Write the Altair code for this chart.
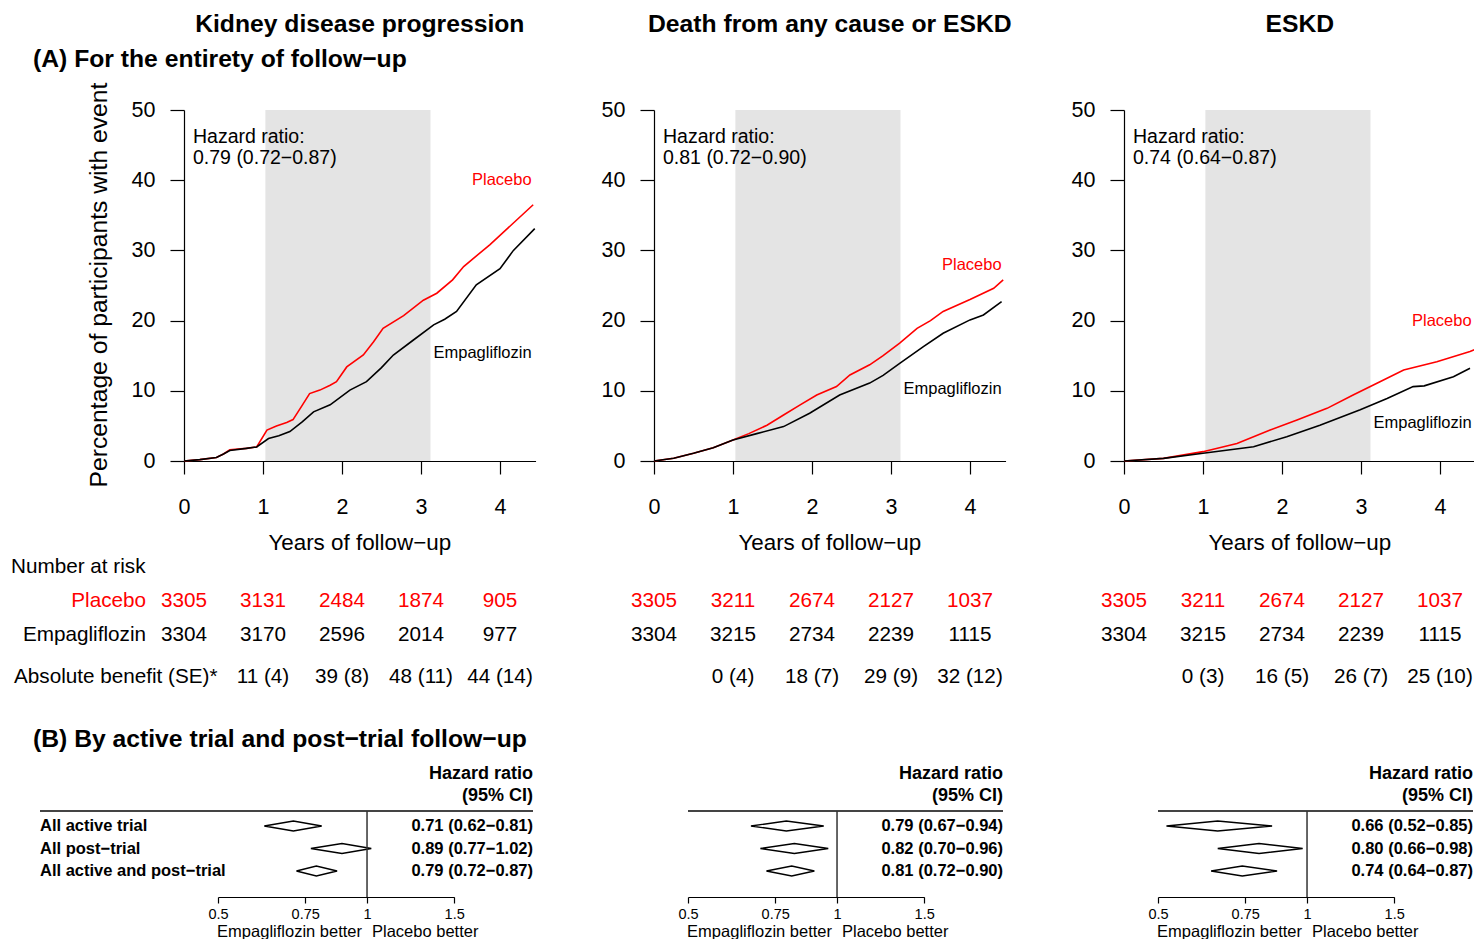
import math
import altair as alt
import pandas as pd

FONT = "Liberation Sans"
W, H = 1474, 939

# ---------------- data ----------------
titles = ["Kidney disease progression", "Death from any cause or ESKD", "ESKD"]
hr_overall = ["0.79 (0.72\u22120.87)", "0.81 (0.72\u22120.90)", "0.74 (0.64\u22120.87)"]

kdp_pla_t = [0, 0.2, 0.41, 0.5, 0.58, 0.79, 0.92, 1.05, 1.17, 1.3, 1.38, 1.5, 1.59, 1.72, 1.85, 1.93, 2.06, 2.27, 2.4, 2.52, 2.78, 3.03, 3.2, 3.4, 3.54, 3.87, 4.17, 4.42]
kdp_pla_v = [0, 0.2, 0.5, 1.0, 1.6, 1.8, 2.0, 4.4, 5.0, 5.5, 5.9, 8.0, 9.6, 10.1, 10.8, 11.3, 13.4, 15.1, 17.0, 18.9, 20.7, 22.9, 23.9, 25.8, 27.7, 30.8, 33.9, 36.5]
kdp_emp_t = [0, 0.2, 0.41, 0.5, 0.58, 0.79, 0.92, 1.07, 1.2, 1.34, 1.5, 1.64, 1.85, 2.1, 2.31, 2.5, 2.65, 2.9, 3.16, 3.3, 3.45, 3.7, 4.0, 4.17, 4.44]
kdp_emp_v = [0, 0.2, 0.5, 1.0, 1.5, 1.8, 2.0, 3.2, 3.6, 4.2, 5.6, 7.0, 8.0, 10.1, 11.3, 13.3, 15.1, 17.2, 19.4, 20.2, 21.3, 25.1, 27.4, 30.0, 33.1]

dth_pla_t = [0, 0.25, 0.5, 0.75, 1.0, 1.2, 1.43, 1.64, 1.85, 2.06, 2.31, 2.48, 2.73, 2.9, 3.11, 3.33, 3.5, 3.66, 4.0, 4.3, 4.42]
dth_pla_v = [0, 0.4, 1.1, 1.9, 3.0, 3.9, 5.1, 6.55, 8.0, 9.4, 10.6, 12.25, 13.7, 15.0, 16.8, 18.9, 20.0, 21.3, 23.0, 24.6, 25.8]
dth_emp_t = [0, 0.25, 0.5, 0.75, 1.0, 1.3, 1.64, 1.97, 2.35, 2.73, 2.9, 3.11, 3.41, 3.66, 4.0, 4.17, 4.40]
dth_emp_v = [0, 0.4, 1.1, 1.9, 3.0, 3.9, 4.9, 6.8, 9.4, 11.1, 12.2, 13.9, 16.3, 18.2, 20.1, 20.8, 22.7]

esk_pla_t = [0, 0.5, 1.0, 1.43, 1.85, 2.19, 2.57, 2.9, 3.24, 3.54, 3.96, 4.38, 4.45]
esk_pla_v = [0, 0.38, 1.33, 2.5, 4.4, 5.85, 7.5, 9.4, 11.3, 12.96, 14.15, 15.6, 15.9]
esk_emp_t = [0, 0.5, 1.0, 1.64, 2.06, 2.48, 2.99, 3.33, 3.66, 3.8, 4.17, 4.38]
esk_emp_v = [0, 0.38, 1.1, 2.04, 3.46, 5.1, 7.3, 8.9, 10.6, 10.7, 12.0, 13.2]

curves = [
    (kdp_pla_t, kdp_pla_v, kdp_emp_t, kdp_emp_v),
    (dth_pla_t, dth_pla_v, dth_emp_t, dth_emp_v),
    (esk_pla_t, esk_pla_v, esk_emp_t, esk_emp_v),
]

risk_years = [0, 1, 2, 3, 4]
benefit_years = [1, 2, 3, 4]
kdp_risk_pla = [3305, 3131, 2484, 1874, 905]
kdp_risk_emp = [3304, 3170, 2596, 2014, 977]
kdp_benefit = ["11 (4)", "39 (8)", "48 (11)", "44 (14)"]
dth_risk_pla = [3305, 3211, 2674, 2127, 1037]
dth_risk_emp = [3304, 3215, 2734, 2239, 1115]
dth_benefit = ["0 (4)", "18 (7)", "29 (9)", "32 (12)"]
esk_risk_pla = [3305, 3211, 2674, 2127, 1037]
esk_risk_emp = [3304, 3215, 2734, 2239, 1115]
esk_benefit = ["0 (3)", "16 (5)", "26 (7)", "25 (10)"]
risk = [
    (kdp_risk_pla, kdp_risk_emp, kdp_benefit),
    (dth_risk_pla, dth_risk_emp, dth_benefit),
    (esk_risk_pla, esk_risk_emp, esk_benefit),
]

forest_rows = ["All active trial", "All post\u2212trial", "All active and post\u2212trial"]
kdp_hr, kdp_lo, kdp_hi = [0.71, 0.89, 0.79], [0.62, 0.77, 0.72], [0.81, 1.02, 0.87]
dth_hr, dth_lo, dth_hi = [0.79, 0.82, 0.81], [0.67, 0.70, 0.72], [0.94, 0.96, 0.90]
esk_hr, esk_lo, esk_hi = [0.66, 0.80, 0.74], [0.52, 0.66, 0.64], [0.85, 0.98, 0.87]
forest = [(kdp_hr, kdp_lo, kdp_hi), (dth_hr, dth_lo, dth_hi), (esk_hr, esk_lo, esk_hi)]

km_xticks = [0, 1, 2, 3, 4]
km_yticks = [0, 10, 20, 30, 40, 50]
forest_ticks = [0.5, 0.75, 1, 1.5]
shade_start, shade_end = 1.03, 3.12

# ---------------- layout ----------------
KM_X0 = [184, 654, 1124]
YR_PX = 79
XMAX = 4.45
KM_TOP, KM_BOT = 110, 461
F_X0 = [218, 688, 1158]
F_LEFT = [40, 688, 1158]
F_RIGHT = [533, 1003, 1473]
LOG_PX = 215
F_ROW_Y = (826, 871)
F_TOP, F_AXIS = 811, 897
DIAM_HALF = 0.222
RED = "#ff0000"


def xkm(i):
    x0 = KM_X0[i]
    return alt.Scale(type="linear", domain=[0, XMAX], range=[x0, x0 + XMAX * YR_PX], nice=False, zero=False)


def ykm():
    return alt.Scale(type="linear", domain=[0, 50], range=[KM_BOT, KM_TOP], nice=False, zero=False)


def xf(i):
    x0 = F_X0[i]
    return alt.Scale(type="log", domain=[0.5, 1.5], range=[x0, x0 + LOG_PX * math.log(3)], nice=False)


def yf():
    return alt.Scale(type="linear", domain=[1, 3], range=list(F_ROW_Y), nice=False, zero=False)


AXS = dict(domainColor="black", tickColor="black", labelColor="black", labelFont=FONT,
           grid=False, title=None, domainWidth=1.2, tickWidth=1.2,
           labelOverlap=False, labelFlush=False, labelBound=False)

one = pd.DataFrame({"k": [0]})


def txt(df, text, x, y, size, color="black", align="center", bold=False, angle=None, dx=0):
    kw = dict(font=FONT, fontSize=size, color=color, align=align, baseline="middle",
              fontWeight="bold" if bold else "normal", dx=dx)
    if angle is not None:
        kw["angle"] = angle
    return alt.Chart(df).mark_text(**kw).encode(x=x, y=y, text=text)


layers = []

for i in range(3):
    # shaded band
    sh = pd.DataFrame({"a": [shade_start], "b": [shade_end], "lo": [0], "hi": [50]})
    layers.append(alt.Chart(sh).mark_rect(color="#e4e4e4").encode(
        x=alt.X("a:Q", scale=xkm(i), axis=None), x2="b:Q",
        y=alt.Y("lo:Q", scale=ykm(), axis=None), y2="hi:Q"))

    pt, pv, et, ev = curves[i]
    df = pd.concat([
        pd.DataFrame({"t": pt, "v": pv, "arm": "Placebo"}),
        pd.DataFrame({"t": et, "v": ev, "arm": "Empagliflozin"}),
    ])
    xa = alt.Axis(orient="bottom", offset=KM_BOT - H, values=km_xticks, tickSize=13,
                  labelFontSize=21.5, labelPadding=22, format="d", **AXS)
    ya = alt.Axis(orient="left", offset=-KM_X0[i], values=km_yticks, tickSize=14,
                  labelFontSize=21.5, labelPadding=15, format="d", **AXS)
    layers.append(alt.Chart(df).mark_line(strokeWidth=1.6).encode(
        x=alt.X("t:Q", scale=xkm(i), axis=xa),
        y=alt.Y("v:Q", scale=ykm(), axis=ya),
        color=alt.Color("arm:N", scale=alt.Scale(domain=["Placebo", "Empagliflozin"], range=[RED, "black"]), legend=None),
    ))

    # hazard ratio annotation
    hdf = pd.DataFrame({"t": [0.114, 0.114], "v": [46.15, 43.1], "s": ["Hazard ratio:", hr_overall[i]]})
    layers.append(txt(hdf, "s:N", alt.X("t:Q", scale=xkm(i), axis=None),
                      alt.Y("v:Q", scale=ykm(), axis=None), 19.5, align="left"))

    # arm labels
    lab_v = [(40.0, 15.4), (27.9, 10.3), (19.9, 5.4)][i]
    ldf_p = pd.DataFrame({"t": [4.40], "v": [lab_v[0]], "s": ["Placebo"]})
    ldf_e = pd.DataFrame({"t": [4.40], "v": [lab_v[1]], "s": ["Empagliflozin"]})
    layers.append(txt(ldf_p, "s:N", alt.X("t:Q", scale=xkm(i), axis=None),
                      alt.Y("v:Q", scale=ykm(), axis=None), 16.5, color=RED, align="right"))
    layers.append(txt(ldf_e, "s:N", alt.X("t:Q", scale=xkm(i), axis=None),
                      alt.Y("v:Q", scale=ykm(), axis=None), 16.5, align="right"))

    # panel title & x title
    tdf = pd.DataFrame({"t": [XMAX / 2], "s": [titles[i]]})
    layers.append(txt(tdf, "s:N", alt.X("t:Q", scale=xkm(i), axis=None), alt.value(25), 24.7, bold=True))
    xdf = pd.DataFrame({"t": [XMAX / 2], "s": ["Years of follow\u2212up"]})
    layers.append(txt(xdf, "s:N", alt.X("t:Q", scale=xkm(i), axis=None), alt.value(543), 22.4))

    # number at risk
    rp, re_, rb = risk[i]
    layers.append(txt(pd.DataFrame({"t": risk_years, "s": [str(v) for v in rp]}), "s:N",
                      alt.X("t:Q", scale=xkm(i), axis=None), alt.value(601), 20.7, color=RED))
    layers.append(txt(pd.DataFrame({"t": risk_years, "s": [str(v) for v in re_]}), "s:N",
                      alt.X("t:Q", scale=xkm(i), axis=None), alt.value(635), 20.7))
    layers.append(txt(pd.DataFrame({"t": benefit_years, "s": rb}), "s:N",
                      alt.X("t:Q", scale=xkm(i), axis=None), alt.value(677), 20.7))

    # ---------------- forest ----------------
    hr, lo, hi = forest[i]
    pts = []
    for r in range(3):
        row = r + 1
        verts = [(lo[r], row), (hr[r], row - DIAM_HALF), (hi[r], row), (hr[r], row + DIAM_HALF), (lo[r], row)]
        for k, (xv, yv) in enumerate(verts):
            pts.append({"x": xv, "y": yv, "row": row, "o": k})
    ddf = pd.DataFrame(pts)
    fa = alt.Axis(orient="bottom", offset=F_AXIS - H, values=forest_ticks, tickSize=6,
                  labelFontSize=14.5, labelPadding=4, labelExpr="'' + datum.value", **AXS)
    layers.append(alt.Chart(ddf).mark_line(color="black", strokeWidth=1.4).encode(
        x=alt.X("x:Q", scale=xf(i), axis=fa),
        y=alt.Y("y:Q", scale=yf(), axis=None),
        detail="row:N", order="o:Q"))

    # header line & null line
    layers.append(alt.Chart(one).mark_rule(color="#444444", strokeWidth=2).encode(
        x=alt.value(F_LEFT[i]), x2=alt.value(F_RIGHT[i]), y=alt.value(F_TOP)))
    layers.append(alt.Chart(pd.DataFrame({"n": [1]})).mark_rule(color="#333333", strokeWidth=1.5).encode(
        x=alt.X("n:Q", scale=xf(i), axis=None), y=alt.value(F_TOP), y2=alt.value(F_AXIS)))

    # header text
    layers.append(txt(pd.DataFrame({"s": ["Hazard ratio"]}), "s:N", alt.value(F_RIGHT[i]), alt.value(774),
                      18, align="right", bold=True))
    layers.append(txt(pd.DataFrame({"s": ["(95% CI)"]}), "s:N", alt.value(F_RIGHT[i]), alt.value(796),
                      18, align="right", bold=True))
    # HR values
    hrtxt = [f"{hr[r]:.2f} ({lo[r]:.2f}\u2212{hi[r]:.2f})" for r in range(3)]
    layers.append(txt(pd.DataFrame({"row": [1, 2, 3], "s": hrtxt}), "s:N", alt.value(F_RIGHT[i]),
                      alt.Y("row:Q", scale=yf(), axis=None), 16.5, align="right", bold=True))
    # better labels
    layers.append(txt(pd.DataFrame({"n": [1], "s": ["Empagliflozin better"]}), "s:N",
                      alt.X("n:Q", scale=xf(i), axis=None), alt.value(932), 16.5, align="right", dx=-5))
    layers.append(txt(pd.DataFrame({"n": [1], "s": ["Placebo better"]}), "s:N",
                      alt.X("n:Q", scale=xf(i), axis=None), alt.value(932), 16.5, align="left", dx=5))

# row labels of forest (left panel only)
layers.append(txt(pd.DataFrame({"row": [1, 2, 3], "s": forest_rows}), "s:N", alt.value(F_LEFT[0]),
                  alt.Y("row:Q", scale=yf(), axis=None), 16.5, align="left", bold=True))

# global texts
layers.append(txt(pd.DataFrame({"s": ["(A) For the entirety of follow\u2212up"]}), "s:N",
                  alt.value(33), alt.value(60), 24.7, align="left", bold=True))
layers.append(txt(pd.DataFrame({"s": ["(B) By active trial and post\u2212trial follow\u2212up"]}), "s:N",
                  alt.value(33), alt.value(740), 24.7, align="left", bold=True))
layers.append(txt(pd.DataFrame({"s": ["Percentage of participants with event"]}), "s:N",
                  alt.value(100), alt.value(285), 24.7, angle=270))
layers.append(txt(pd.DataFrame({"s": ["Number at risk"]}), "s:N", alt.value(11), alt.value(567), 20.7, align="left"))
layers.append(txt(pd.DataFrame({"s": ["Placebo"]}), "s:N", alt.value(146), alt.value(601), 20.7, color=RED, align="right"))
layers.append(txt(pd.DataFrame({"s": ["Empagliflozin"]}), "s:N", alt.value(146), alt.value(635), 20.7, align="right"))
layers.append(txt(pd.DataFrame({"s": ["Absolute benefit (SE)*"]}), "s:N", alt.value(14), alt.value(677), 20.7, align="left"))

chart = (
    alt.layer(*layers)
    .resolve_scale(x="independent", y="independent", color="independent")
    .properties(width=W, height=H, autosize=alt.AutoSizeParams(type="none"), padding=0, background="white")
    .configure_view(stroke=None)
)

chart.save("out.html", embed_options={"renderer": "svg", "actions": False})
